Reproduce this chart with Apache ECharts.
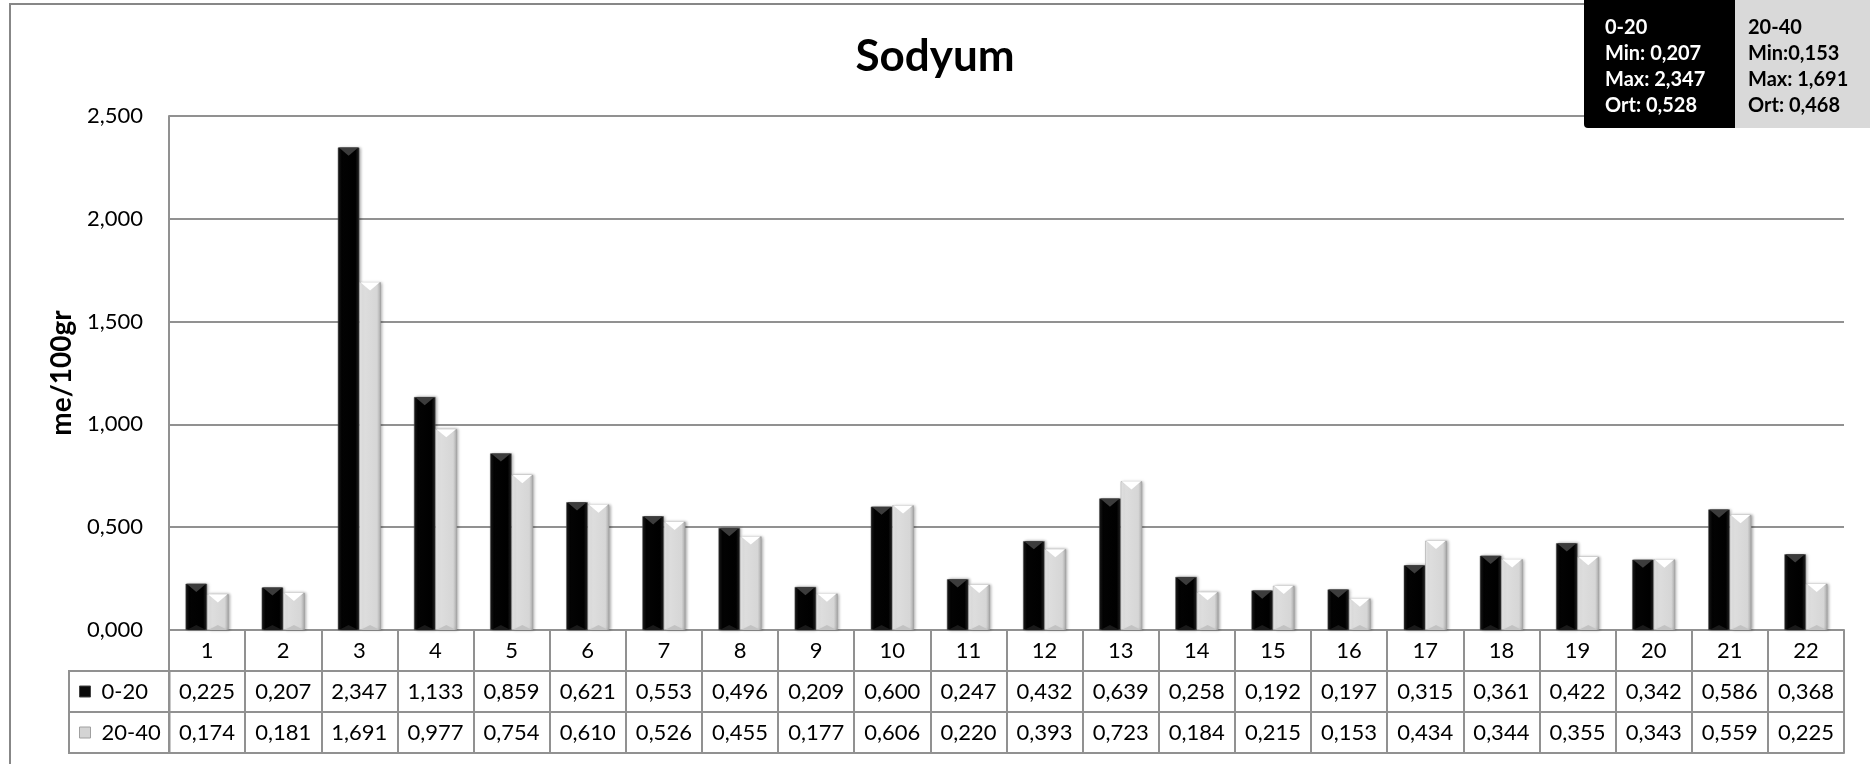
<!DOCTYPE html>
<html>
<head>
<meta charset="utf-8">
<script src="https://cdn.jsdelivr.net/npm/echarts@6/dist/echarts.min.js"></script>
<style>
  html, body { margin: 0; padding: 0; background: #fff; overflow: hidden; }
  #frame { position: absolute; left: 9px; top: 3px; width: 2000px; height: 1000px;
           border-left: 2px solid #878787; border-top: 2px solid #878787; }
  #chart { position: absolute; left: 0; top: 0; width: 1870px; height: 764px; }
</style>
</head>
<body>
<div id="frame"></div>
<div id="chart"></div>
<script>
const categories = ['1','2','3','4','5','6','7','8','9','10','11','12','13','14','15','16','17','18','19','20','21','22'];
const seriesNames = ['0-20', '20-40'];
const values020 = [0.225,0.207,2.347,1.133,0.859,0.621,0.553,0.496,0.209,0.600,0.247,0.432,0.639,0.258,0.192,0.197,0.315,0.361,0.422,0.342,0.586,0.368];
const values2040 = [0.174,0.181,1.691,0.977,0.754,0.610,0.526,0.455,0.177,0.606,0.220,0.393,0.723,0.184,0.215,0.153,0.434,0.344,0.355,0.343,0.559,0.225];
const yMin = 0, yMax = 2.5, yStep = 0.5;
const statsA = ['0-20', 'Min: 0,207', 'Max: 2,347', 'Ort: 0,528'];
const statsB = ['20-40', 'Min:0,153', 'Max: 1,691', 'Ort: 0,468'];
const titleText = 'Sodyum';
const yName = 'me/100gr';

const FONT = 'Lato';
const LINE = '#919191';
const BW = 21.5;
const fmt = v => v.toFixed(3).replace('.', ',');

const chart = echarts.init(document.getElementById('chart'), null, { renderer: 'canvas' });

const blackGrad = new echarts.graphic.LinearGradient(0, 0, 1, 0, [
  { offset: 0, color: '#1c1c1c' }, { offset: 0.18, color: '#030303' },
  { offset: 0.82, color: '#000000' }, { offset: 1, color: '#262626' }
]);
const grayGrad = new echarts.graphic.LinearGradient(0, 0, 1, 0, [
  { offset: 0, color: '#f2f2f2' }, { offset: 0.18, color: '#dedede' },
  { offset: 0.82, color: '#d6d6d6' }, { offset: 1, color: '#a9a9a9' }
]);

function bevel(side, topColor, botColor) {
  return function (params, api) {
    const idx = api.value(0), val = api.value(1);
    const top = api.coord([idx, val]);
    const base = api.coord([idx, 0]);
    const x0 = side === 0 ? top[0] - BW : top[0];
    const h = Math.min(BW * 0.38, (base[1] - top[1]) / 2);
    return {
      type: 'group',
      children: [
        { type: 'polygon', shape: { points: [[x0 + 1, top[1]], [x0 + BW - 1, top[1]], [x0 + BW / 2, top[1] + h]] },
          style: { fill: topColor } },
        { type: 'polygon', shape: { points: [[x0 + 1, base[1]], [x0 + BW - 1, base[1]], [x0 + BW / 2, base[1] - h * 0.6]] },
          style: { fill: botColor } }
      ]
    };
  };
}

const tableAxis = (offset, formatter, showTick, showLabel) => ({
  type: 'category',
  gridIndex: 0,
  position: 'bottom',
  offset: offset,
  data: categories,
  boundaryGap: true,
  axisLine: { show: true, lineStyle: { color: LINE, width: 2 } },
  axisTick: { show: showTick, length: 41, interval: 0, lineStyle: { color: LINE, width: 2 } },
  axisLabel: { show: showLabel, interval: 0, margin: 10, fontFamily: FONT, fontSize: 22, color: '#000', formatter: formatter },
  splitLine: { show: false }
});

const legendBox = (name, top, swatch, border) => ({
  orient: 'vertical',
  left: 69,
  top: top,
  data: [{ name: name, icon: 'rect', itemStyle: { color: swatch, borderColor: border, borderWidth: 1 } }],
  itemWidth: 11,
  itemHeight: 11,
  itemGap: 0,
  padding: [7, 0, 7, 10],
  borderColor: LINE,
  borderWidth: 2,
  selectedMode: false,
  textStyle: { fontFamily: FONT, fontSize: 22, color: '#000', lineHeight: 27, width: 68, padding: [0, 0, 0, 6] }
});

const option = {
  backgroundColor: 'transparent',
  animation: false,
  title: [
    { text: titleText, left: 'center', top: 30, padding: [5, 0, 5, 36],
      textStyle: { fontFamily: FONT, fontSize: 44, fontWeight: 'bold', color: '#000' } },
    { text: statsA.join('\n'), left: 1584, top: 0, backgroundColor: '#000', borderRadius: [0, 0, 0, 4],
      padding: [15, 18, 9, 21],
      textStyle: { fontFamily: FONT, fontSize: 20, fontWeight: 'bold', color: '#fff', lineHeight: 26, width: 112 } },
    { text: statsB.join('\n'), left: 1735, top: 0, backgroundColor: '#d9d9d9',
      padding: [15, 8, 9, 13],
      textStyle: { fontFamily: FONT, fontSize: 20, fontWeight: 'bold', color: '#000', lineHeight: 26, width: 114 } }
  ],
  legend: [
    legendBox(seriesNames[0], 671, '#0a0a0a', '#444'),
    legendBox(seriesNames[1], 712, '#d4d4d4', '#a0a0a0')
  ],
  grid: { left: 169, right: 26, top: 116, bottom: 134, containLabel: false },
  xAxis: [
    tableAxis(0, v => v, true, true),
    tableAxis(41, (v, i) => fmt(values020[i]), true, true),
    tableAxis(82, (v, i) => fmt(values2040[i]), true, true),
    tableAxis(123, null, false, false)
  ],
  yAxis: {
    type: 'value',
    min: yMin, max: yMax, interval: yStep,
    name: yName,
    nameLocation: 'middle',
    nameRotate: 90,
    nameGap: 92,
    nameTextStyle: { fontFamily: FONT, fontSize: 28, fontWeight: 'bold', color: '#000' },
    axisLine: { show: true, lineStyle: { color: LINE, width: 2 } },
    axisTick: { show: false },
    axisLabel: { margin: 26, fontFamily: FONT, fontSize: 22, color: '#000', formatter: v => fmt(v) },
    splitLine: { show: true, lineStyle: { color: LINE, width: 2 } }
  },
  series: [
    { name: seriesNames[0], type: 'bar', data: values020, barWidth: BW, barGap: '0%', z: 3,
      itemStyle: { color: blackGrad, borderColor: '#555', borderWidth: 0.5,
                   shadowColor: 'rgba(0,0,0,0.35)', shadowBlur: 3, shadowOffsetX: 1.5, shadowOffsetY: 0 } },
    { name: seriesNames[1], type: 'bar', data: values2040, barWidth: BW, barGap: '0%', z: 3,
      itemStyle: { color: grayGrad, borderColor: '#9a9a9a', borderWidth: 0.5,
                   shadowColor: 'rgba(0,0,0,0.35)', shadowBlur: 3, shadowOffsetX: 1.5, shadowOffsetY: 0 } },
    { type: 'custom', silent: true, z: 4, data: values020.map((v, i) => [i, v]),
      renderItem: bevel(0, '#3c3c3c', '#1a1a1a') },
    { type: 'custom', silent: true, z: 4, data: values2040.map((v, i) => [i, v]),
      renderItem: bevel(1, '#ffffff', '#c2c2c2') }
  ]
};
chart.setOption(option);
</script>
</body>
</html>
